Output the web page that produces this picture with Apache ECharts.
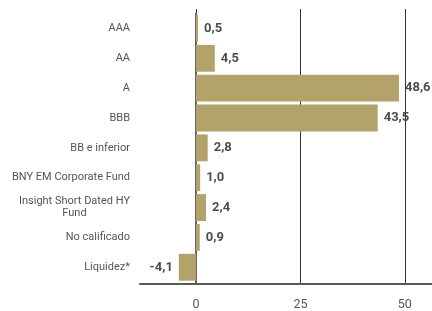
<!DOCTYPE html>
<html>
<head>
<meta charset="utf-8">
<title>Calidad crediticia</title>
<script src="https://cdn.jsdelivr.net/npm/echarts@6/dist/echarts.min.js"></script>
<style>
	html,body{margin:0;padding:0;background:#fff;}
	#main{width:432px;height:311px;}
</style>
</head>
<body>
<div id="main"></div>
<script type="text/javascript">
// datos
var categorias = ['AAA', 'AA', 'A', 'BBB', 'BB e inferior', 'BNY EM Corporate Fund', 'Insight Short Dated HY Fund', 'No calificado', 'Liquidez*'];
var valores = [0.5, 4.5, 48.6, 43.5, 2.8, 1.0, 2.4, 0.9, -4.1];
var ticksX = [0, 25, 50];

var colorBarra = '#b3a269';
var fuente = 'Roboto';

function fmt(v) {
	return v.toFixed(1).replace('.', ',');
}

var myChart = echarts.init(document.getElementById('main'), null, {renderer: 'canvas'});
var option = {
	animation: false,
	textStyle: {fontFamily: fuente},
	grid: [
		// rejilla para lineas verticales y eje x
		{left: 140, right: 0, top: 9, bottom: 26},
		// rejilla para las barras
		{left: 140, right: 0, top: 13.5, bottom: 28.8}
	],
	xAxis: [
		{
			gridIndex: 0,
			type: 'value',
			min: -13.4,
			max: 56.5,
			axisLine: {show: true, lineStyle: {color: '#595959', width: 2}},
			axisTick: {show: false, customValues: ticksX},
			axisLabel: {customValues: ticksX, color: '#555', fontSize: 12.5, margin: 14, fontFamily: fuente},
			splitLine: {show: true, lineStyle: {color: '#333', width: 1}}
		},
		{
			gridIndex: 1,
			type: 'value',
			min: -13.4,
			max: 56.5,
			show: false,
			splitLine: {show: false}
		}
	],
	yAxis: [
		{gridIndex: 0, type: 'value', show: false, splitLine: {show: false}},
		{
			gridIndex: 1,
			type: 'category',
			inverse: true,
			data: categorias,
			axisLine: {show: true, onZero: true, lineStyle: {color: '#666', width: 2}},
			axisTick: {show: false},
			axisLabel: {
				color: '#555',
				fontSize: 11,
				margin: 10,
				fontFamily: fuente,
				formatter: function (v) {
					if (v === 'Insight Short Dated HY Fund') {
						return '{c|Insight Short Dated HY}\n{c|Fund}';
					}
					return v;
				},
				rich: {
					c: {align: 'center', color: '#555', fontSize: 11, lineHeight: 12, fontFamily: fuente}
				}
			}
		}
	],
	series: [
		{
			type: 'bar',
			xAxisIndex: 1,
			yAxisIndex: 1,
			barCategoryGap: '10%',
			data: valores.map(function (v) {
				return {
					value: v,
					label: {position: v < 0 ? 'left' : 'right'}
				};
			}),
			itemStyle: {color: colorBarra},
			label: {
				show: true,
				distance: 6,
				color: '#4d4d4d',
				fontSize: 13,
				fontWeight: 'bold',
				fontFamily: fuente,
				formatter: function (p) { return fmt(p.value); }
			}
		}
	]
};
myChart.setOption(option);
</script>
</body>
</html>
